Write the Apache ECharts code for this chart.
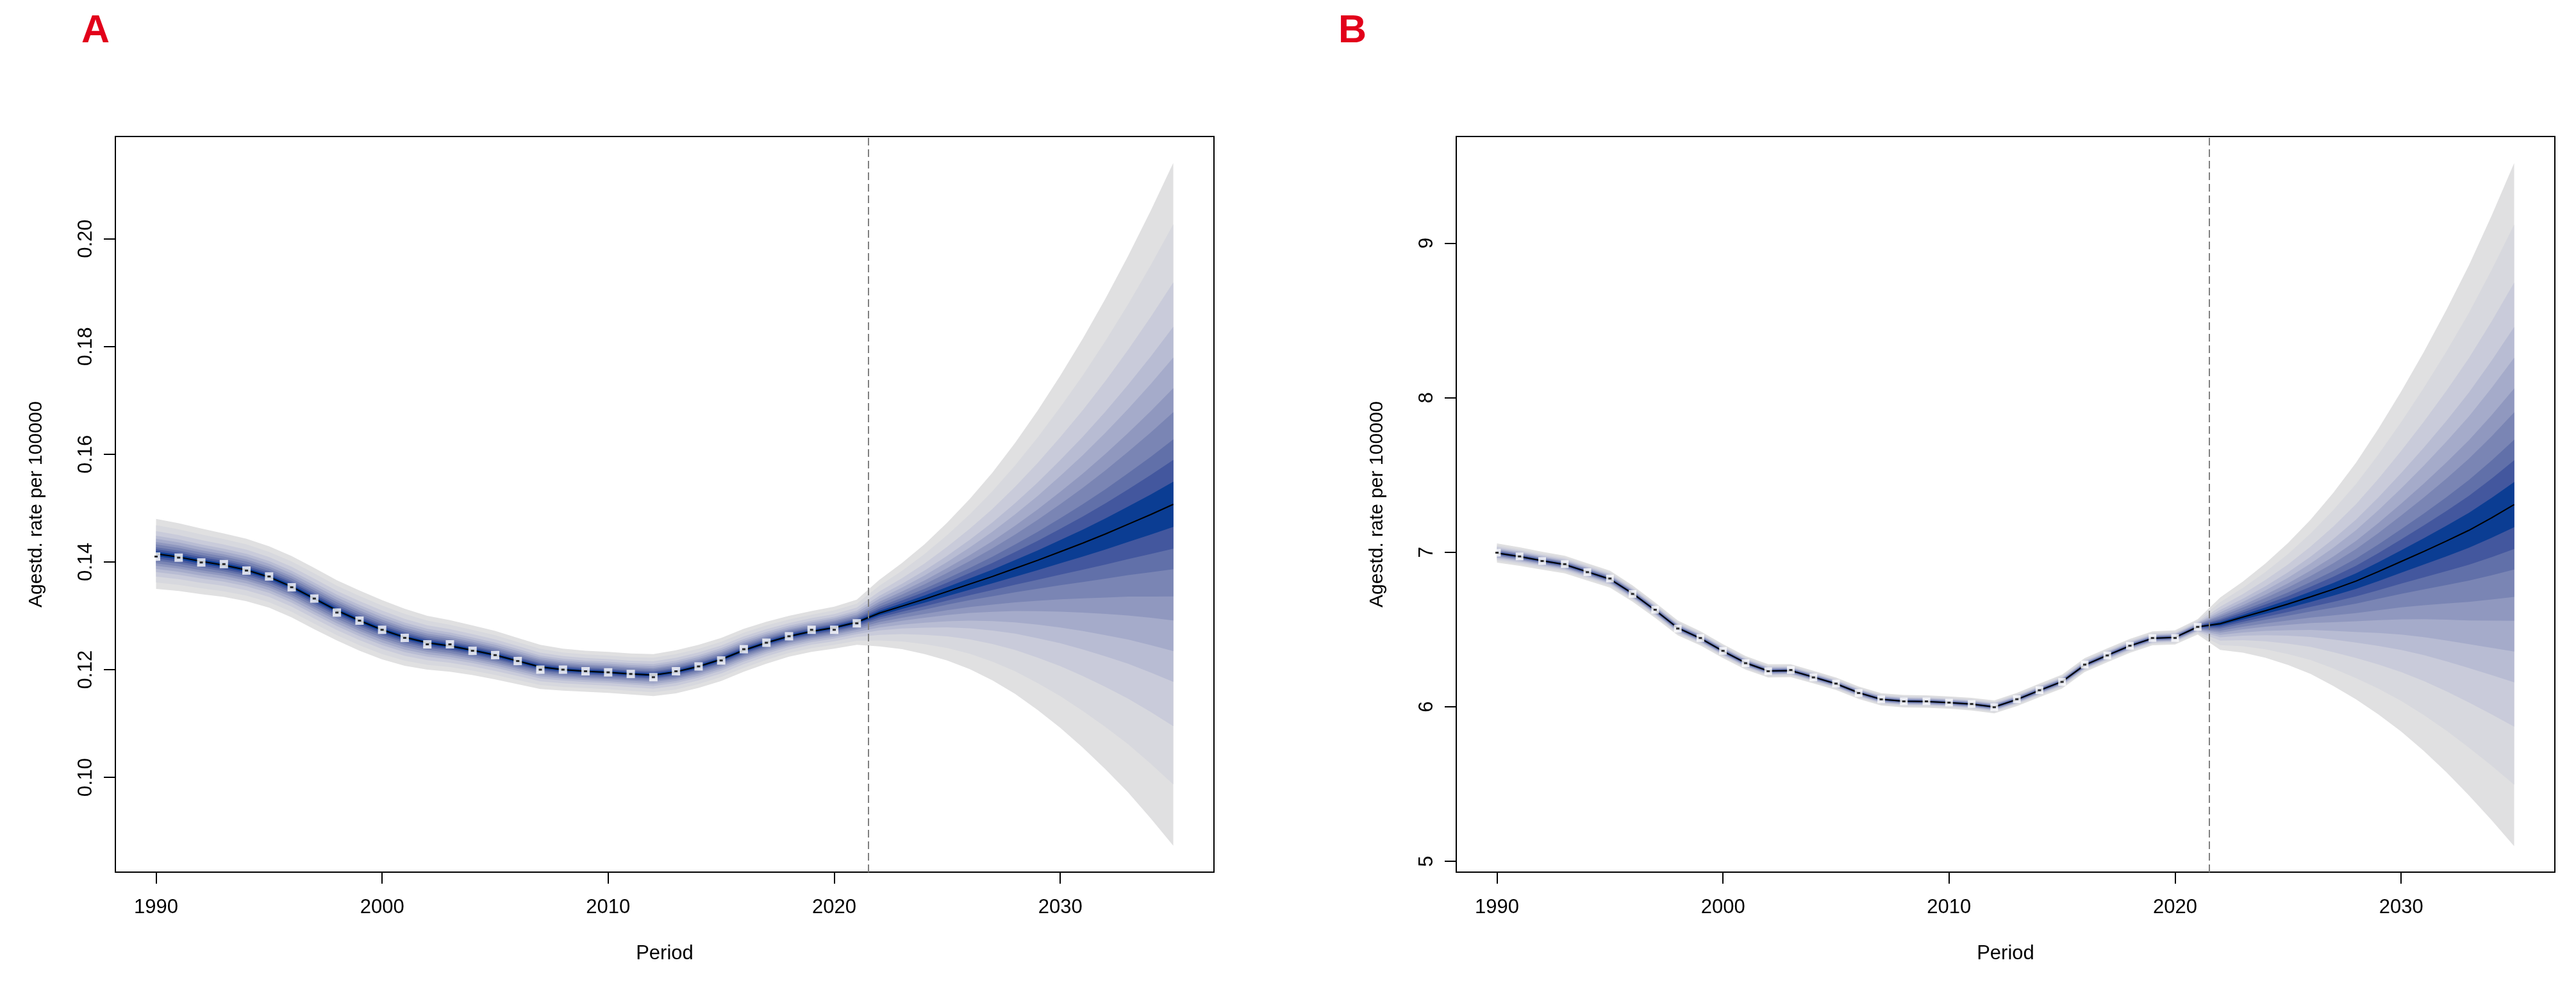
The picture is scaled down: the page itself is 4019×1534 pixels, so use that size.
<!DOCTYPE html>
<html>
<head>
<meta charset="utf-8">
<script src="https://cdn.jsdelivr.net/npm/echarts@6/dist/echarts.min.js"></script>
<style>
  html, body { margin: 0; padding: 0; background: #fff; }
  #chart { width: 4019px; height: 1534px; }
</style>
</head>
<body>
<div id="chart"></div>
<script>
// ---- data ----
var years = [1990,1991,1992,1993,1994,1995,1996,1997,1998,1999,
             2000,2001,2002,2003,2004,2005,2006,2007,2008,2009,
             2010,2011,2012,2013,2014,2015,2016,2017,2018,2019,
             2020,2021,2022,2023,2024,2025,2026,2027,2028,2029,
             2030,2031,2032,2033,2034,2035];
var obsYears = years.slice(0, 32);   // 1990-2021 observed
var cutYear = 2021.5;                // dashed separator

var xTicks = [1990, 2000, 2010, 2020, 2030];
var yTicksA = [0.10, 0.12, 0.14, 0.16, 0.18, 0.20];
var yTicksB = [5, 6, 7, 8, 9];

// panel A
var obsA = [0.1410,0.1408,0.1399,0.1396,0.1384,0.1373,0.1353,0.1332,0.1306,0.1291,
            0.1274,0.1259,0.1247,0.1247,0.1235,0.1227,0.1216,0.1200,0.1200,0.1197,
            0.1195,0.1192,0.1186,0.1197,0.1206,0.1217,0.1238,0.1250,0.1262,0.1274,
            0.1274,0.1286];
var lineA = [0.1415,0.1409,0.1401,0.1394,0.1385,0.1372,0.1354,0.1332,0.1310,0.1291,
             0.1274,0.1260,0.1250,0.1244,0.1236,0.1227,0.1216,0.1205,0.1200,0.1197,
             0.1195,0.1192,0.1190,0.1196,0.1206,0.1219,0.1236,0.1250,0.1262,0.1271,
             0.1278,0.1288,0.1305,0.1318,0.1331,0.1345,0.1359,0.1373,0.1388,0.1403,
             0.1419,0.1435,0.1452,0.1470,0.1488,0.1507];
// half width of the outermost band
var spreadA = [0.0065,0.0063,0.0061,0.0059,0.0058,0.0057,0.0057,0.0057,0.0056,0.0056,
               0.0055,0.0053,0.0050,0.0048,0.0046,0.0045,0.0043,0.0041,0.0039,0.0038,
               0.0038,0.0038,0.0039,0.0040,0.0040,0.0040,0.0040,0.0039,0.0038,0.0038,
               0.0039,0.0042,0.0062,0.0080,0.0102,0.0128,0.0158,0.0193,0.0233,0.0278,
               0.0327,0.0380,0.0437,0.0498,0.0564,0.0634];

// panel B
var obsB = [6.997,6.973,6.943,6.923,6.871,6.830,6.730,6.628,6.506,6.445,
            6.362,6.282,6.230,6.238,6.190,6.150,6.089,6.048,6.035,6.035,
            6.027,6.018,5.997,6.049,6.107,6.161,6.273,6.332,6.395,6.445,
            6.445,6.517];
var lineB = [6.995,6.972,6.945,6.920,6.873,6.826,6.733,6.625,6.510,6.443,
             6.360,6.284,6.232,6.234,6.192,6.149,6.091,6.048,6.036,6.034,
             6.027,6.017,5.999,6.047,6.106,6.163,6.270,6.333,6.394,6.443,
             6.449,6.517,6.538,6.580,6.622,6.665,6.712,6.760,6.813,6.875,
             6.940,7.005,7.072,7.142,7.222,7.308];
var spreadB = [0.062,0.060,0.058,0.057,0.056,0.055,0.053,0.050,0.048,0.046,
               0.045,0.044,0.043,0.042,0.041,0.040,0.040,0.040,0.040,0.040,
               0.040,0.041,0.042,0.043,0.044,0.045,0.045,0.045,0.045,0.045,
               0.046,0.050,0.170,0.230,0.305,0.395,0.500,0.625,0.765,0.925,
               1.100,1.290,1.495,1.715,1.955,2.210];

// relative position of each band edge (outer -> inner)
var fanLevels = [1, 0.82, 0.65, 0.52, 0.43, 0.34, 0.27, 0.19, 0.13, 0.066];
var fanColors = ['#e0e0e1','#d7d8de','#c9cbda','#b8bcd3','#a5abca',
                 '#9098bf','#7a85b4','#6170a9','#43579e','#0b3d93'];

var font = 'Liberation Sans, Arial, sans-serif';

// nested fan bands, outer first, drawn as polygons through the axes
function fanSeries(line, spread, gi) {
    return {
        type: 'custom', xAxisIndex: gi, yAxisIndex: gi, z: 1, silent: true,
        data: years.map(function (y, i) { return [y, line[i] - spread[i], line[i] + spread[i]]; }),
        encode: { x: 0, y: [1, 2] },
        renderItem: function (params, api) {
            if (params.dataIndex !== 0) return null;
            var children = fanLevels.map(function (f, k) {
                var pts = [];
                for (var i = 0; i < years.length; i++) {
                    pts.push(api.coord([years[i], line[i] + f * spread[i]]));
                }
                for (var j = years.length - 1; j >= 0; j--) {
                    pts.push(api.coord([years[j], line[j] - f * spread[j]]));
                }
                return { type: 'polygon', shape: { points: pts }, style: { fill: fanColors[k], stroke: null } };
            });
            return { type: 'group', children: children };
        }
    };
}

function markSeries(line, obs, gi, size) {
    return [{
        type: 'line', xAxisIndex: gi, yAxisIndex: gi, z: 3,
        data: years.map(function (y, i) { return [y, line[i]]; }),
        showSymbol: false, silent: true,
        lineStyle: { color: '#000', width: 2 },
        markLine: {
            silent: true, symbol: 'none', label: { show: false },
            lineStyle: { color: '#808080', type: [12, 6], width: 2 },
            data: [{ xAxis: cutYear }]
        }
    }, {
        type: 'scatter', xAxisIndex: gi, yAxisIndex: gi, z: 4, silent: true,
        data: obsYears.map(function (y, i) { return [y, obs[i]]; }),
        symbol: 'rect', symbolSize: size,
        itemStyle: { color: '#fff' }
    }, {
        type: 'scatter', xAxisIndex: gi, yAxisIndex: gi, z: 5, silent: true,
        data: obsYears.map(function (y, i) { return [y, obs[i]]; }),
        symbol: 'rect', symbolSize: [5, 3],
        itemStyle: { color: '#000' }
    }];
}

function xAxisFor(gi) {
    return {
        type: 'value', gridIndex: gi, min: 1988.2, max: 2036.8,
        name: 'Period', nameLocation: 'middle', nameGap: 112,
        nameTextStyle: { fontSize: 31, color: '#000', fontFamily: font },
        axisLine: { show: false },
        axisTick: { show: true, customValues: xTicks, length: 18, lineStyle: { color: '#000', width: 2 } },
        axisLabel: { customValues: xTicks, margin: 40, fontSize: 31, color: '#000', fontFamily: font,
                     formatter: function (v) { return String(v); } },
        splitLine: { show: false }
    };
}

function yAxisFor(gi, min, max, ticks, fmt) {
    return {
        type: 'value', gridIndex: gi, min: min, max: max,
        name: 'Agestd. rate per 100000', nameLocation: 'middle', nameGap: 108, nameRotate: 90,
        nameTextStyle: { fontSize: 30, color: '#000', fontFamily: font },
        axisLine: { show: false },
        axisTick: { show: true, customValues: ticks, length: 18, lineStyle: { color: '#000', width: 2 } },
        axisLabel: { customValues: ticks, rotate: 90, margin: 30, fontSize: 31, color: '#000',
                     fontFamily: font, formatter: fmt },
        splitLine: { show: false }
    };
}

var dom = document.getElementById('chart');
var myChart = echarts.init(dom, null, { renderer: 'canvas' });

var option = {
    backgroundColor: '#fff',
    animation: false,
    title: [
        { text: 'A', left: 122, top: 14, textStyle: { color: '#e2001a', fontSize: 61, fontWeight: 'bold', fontFamily: font } },
        { text: 'B', left: 2083, top: 14, textStyle: { color: '#e2001a', fontSize: 61, fontWeight: 'bold', fontFamily: font } }
    ],
    grid: [
        { left: 180, top: 213, width: 1714, height: 1148, show: true, borderColor: '#000', borderWidth: 2, backgroundColor: 'transparent' },
        { left: 2272, top: 213, width: 1714, height: 1148, show: true, borderColor: '#000', borderWidth: 2, backgroundColor: 'transparent' }
    ],
    xAxis: [xAxisFor(0), xAxisFor(1)],
    yAxis: [
        yAxisFor(0, 0.0824, 0.2190, yTicksA, function (v) { return v.toFixed(2); }),
        yAxisFor(1, 4.93, 9.69, yTicksB, function (v) { return String(Math.round(v)); })
    ],
    series: [].concat(
        fanSeries(lineA, spreadA, 0),
        fanSeries(lineB, spreadB, 1),
        markSeries(lineA, obsA, 0, 13),
        markSeries(lineB, obsB, 1, 12)
    )
};

if (option && typeof option === 'object') {
    myChart.setOption(option, true);
}
</script>
</body>
</html>
